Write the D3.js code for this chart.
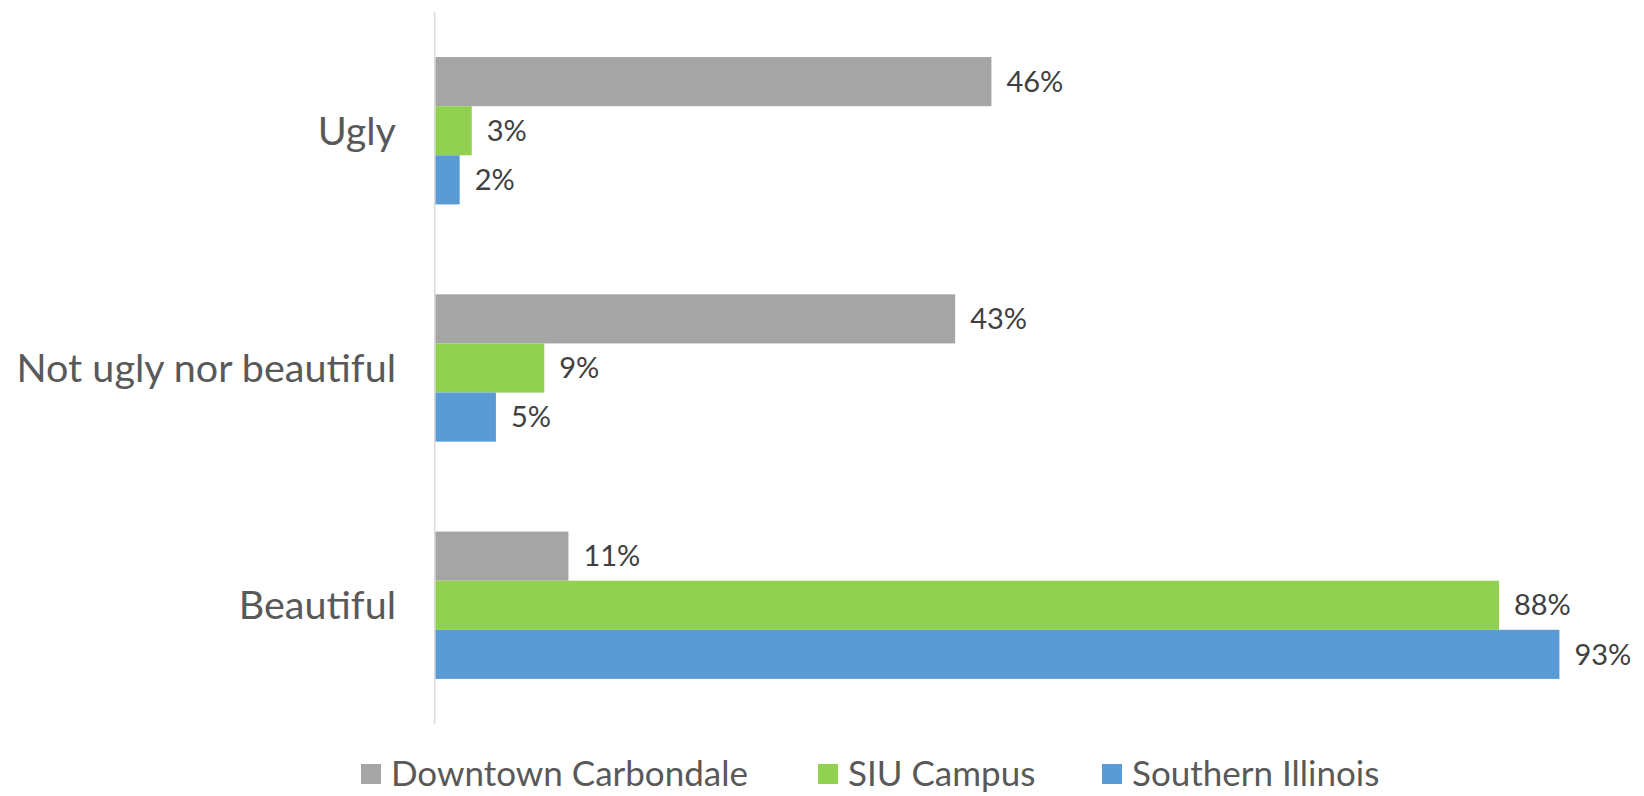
<!DOCTYPE html>
<html>
<head>
<meta charset="utf-8">
<script src="https://cdn.jsdelivr.net/npm/d3@7"></script>
<style>
  html, body { margin: 0; padding: 0; background: #fff; }
  svg { display: block; font-family: Lato, "Open Sans", sans-serif; }
</style>
</head>
<body>
<div id="chart"></div>
<script>
// categories, top to bottom
const categories = ["Ugly", "Not ugly nor beautiful", "Beautiful"]
const seriesNames = ["Downtown Carbondale", "SIU Campus", "Southern Illinois"]
const seriesColors = ["#A5A5A5", "#92D050", "#5B9BD5"]

// values per series, same order as categories
const downtown = [0.46, 0.43, 0.11]
const siuCampus = [0.03, 0.09, 0.88]
const southernIllinois = [0.02, 0.05, 0.93]
const seriesValues = [downtown, siuCampus, southernIllinois]

const width = 1644
const height = 796
const margin = ({top: 12, right: 0, bottom: 72, left: 435.5})

const svg = d3.select("#chart").append("svg")
  .attr("width", width)
  .attr("height", height)

// x-axis linear scale (0-100%)
const x = d3.scaleLinear()
  .domain([0, 1])
  .range([margin.left, width - margin.right])

// category bands
const y = d3.scaleBand()
  .domain(categories)
  .range([margin.top, height - margin.bottom])
  .paddingInner(0.379)
  .paddingOuter(0.19)

// series bands inside each category
const ySub = d3.scaleBand()
  .domain(seriesNames)
  .range([0, y.bandwidth()])

const fmt = d3.format(".0%")

// vertical axis line
svg.append("line")
  .attr("x1", 434.7).attr("x2", 434.7)
  .attr("y1", margin.top).attr("y2", height - margin.bottom)
  .attr("stroke", "#D9D9D9")
  .attr("stroke-width", 1.5)

// bars + labels
const rows = []
seriesNames.forEach((s, si) => {
  categories.forEach((c, ci) => {
    rows.push({ series: s, color: seriesColors[si], category: c, value: seriesValues[si][ci] })
  })
})

const g = svg.append("g")
g.selectAll("rect")
  .data(rows)
  .enter().append("rect")
    .attr("x", x(0))
    .attr("y", d => y(d.category) + ySub(d.series))
    .attr("width", d => x(d.value) - x(0))
    .attr("height", ySub.bandwidth())
    .attr("fill", d => d.color)

g.selectAll("text")
  .data(rows)
  .enter().append("text")
    .attr("x", d => x(d.value) + 15)
    .attr("y", d => y(d.category) + ySub(d.series) + ySub.bandwidth() / 2)
    .attr("dy", "0.35em")
    .attr("fill", "#404040")
    .attr("font-size", 29)
    .text(d => fmt(d.value))

// category labels
svg.append("g")
  .selectAll("text")
  .data(categories)
  .enter().append("text")
    .attr("x", 396)
    .attr("y", d => y(d) + y.bandwidth() / 2)
    .attr("dy", "0.36em")
    .attr("text-anchor", "end")
    .attr("fill", "#595959")
    .attr("font-size", 39.5)
    .text(d => d)

// legend
const legendX = [361, 818, 1102]
const legend = svg.append("g")
  .selectAll("g")
  .data(seriesNames)
  .enter().append("g")
    .attr("transform", (d, i) => `translate(${legendX[i]},764)`)
legend.append("rect")
  .attr("width", 20).attr("height", 20)
  .attr("fill", (d, i) => seriesColors[i])
legend.append("text")
  .attr("x", 30)
  .attr("y", 22)
  .attr("fill", "#595959")
  .attr("font-size", 35)
  .text(d => d)
</script>
</body>
</html>
